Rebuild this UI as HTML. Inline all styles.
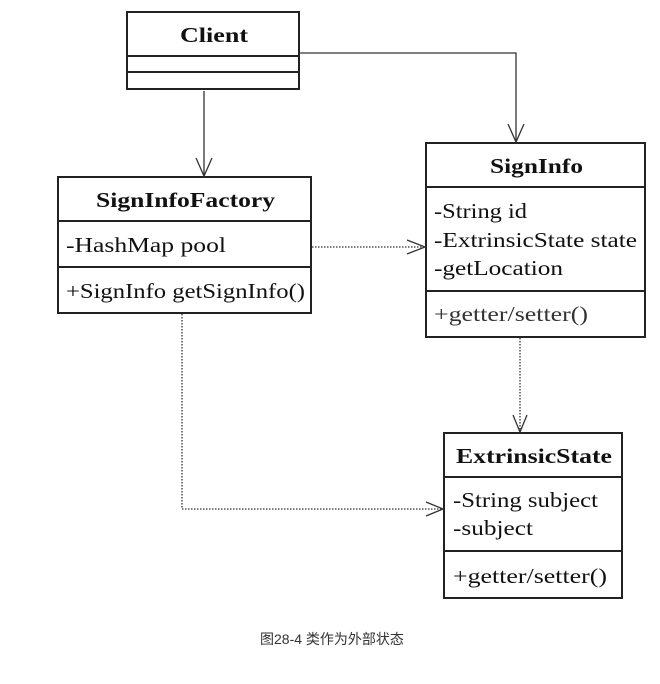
<!DOCTYPE html>
<html><head><meta charset="utf-8"><style>
body{margin:0;background:#fff;}
svg text{font-family:"Liberation Serif",serif;fill:#111;}
</style></head><body>
<svg width="660" height="679" viewBox="0 0 660 679" xmlns="http://www.w3.org/2000/svg">
<g fill="none" stroke="#222" stroke-width="2">
<rect x="127" y="12" width="172" height="77"/>
<line x1="127" y1="56" x2="299" y2="56"/>
<line x1="127" y1="72" x2="299" y2="72"/>
<rect x="58" y="177" width="253" height="136"/>
<line x1="58" y1="221" x2="311" y2="221"/>
<line x1="58" y1="267" x2="311" y2="267"/>
<rect x="426" y="143" width="219" height="194"/>
<line x1="426" y1="187" x2="645" y2="187"/>
<line x1="426" y1="291" x2="645" y2="291"/>
<rect x="444" y="433" width="178" height="165"/>
<line x1="444" y1="477" x2="622" y2="477"/>
<line x1="444" y1="551" x2="622" y2="551"/>
</g>
<g fill="none" stroke="#333" stroke-width="1.3">
<line x1="204" y1="91" x2="204" y2="176"/>
<polyline points="196,158 204,176 212,158"/>
<polyline points="299,53 516,53 516,142"/>
<polyline points="508,124 516,142 524,124"/>
</g>
<g fill="none" stroke="#333" stroke-width="1.3" stroke-dasharray="1.5,1.5">
<line x1="312" y1="247" x2="425" y2="247"/>
<line x1="520" y1="338" x2="520" y2="432"/>
<polyline points="182,314 182,509 443,509"/>
</g>
<g fill="none" stroke="#333" stroke-width="1.3">
<polyline points="407,240 425,247 407,254"/>
<polyline points="513,415 520,432 527,415"/>
<polyline points="426,502 443,509 426,516"/>
</g>
<g font-size="21" font-weight="bold" lengthAdjust="spacingAndGlyphs">
<text x="180" y="42" textLength="68" lengthAdjust="spacingAndGlyphs">Client</text>
<text x="96" y="207" textLength="179" lengthAdjust="spacingAndGlyphs">SignInfoFactory</text>
<text x="490" y="173" textLength="93" lengthAdjust="spacingAndGlyphs">SignInfo</text>
<text x="456" y="463" textLength="156" lengthAdjust="spacingAndGlyphs">ExtrinsicState</text>
</g>
<g font-size="21">
<text x="66" y="252" textLength="160" lengthAdjust="spacingAndGlyphs">-HashMap pool</text>
<text x="66" y="298" textLength="239" lengthAdjust="spacingAndGlyphs">+SignInfo getSignInfo()</text>
<text x="434" y="218" textLength="93" lengthAdjust="spacingAndGlyphs">-String id</text>
<text x="434" y="247" textLength="203" lengthAdjust="spacingAndGlyphs">-ExtrinsicState state</text>
<text x="434" y="275" textLength="129" lengthAdjust="spacingAndGlyphs">-getLocation</text>
<text x="434" y="321" textLength="154" lengthAdjust="spacingAndGlyphs" style="fill:#333">+getter/setter()</text>
<text x="453" y="507" textLength="145" lengthAdjust="spacingAndGlyphs">-String subject</text>
<text x="453" y="535" textLength="80" lengthAdjust="spacingAndGlyphs">-subject</text>
<text x="453" y="583" textLength="154" lengthAdjust="spacingAndGlyphs">+getter/setter()</text>
</g>
<text x="260" y="644" font-size="14" style="font-family:'Liberation Sans','Noto Sans CJK SC',sans-serif;fill:#333">图28-4 类作为外部状态</text>
</svg>
</body></html>
